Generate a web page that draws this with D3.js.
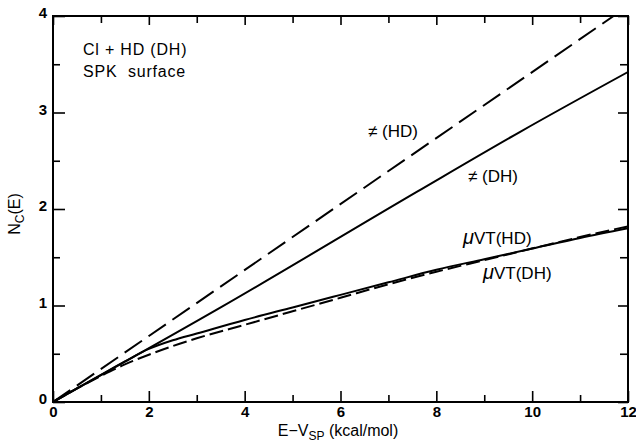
<!DOCTYPE html>
<html><head><meta charset="utf-8">
<script src="https://cdn.jsdelivr.net/npm/d3@7"></script>
<style>
body{margin:0;background:#fff;}
text{font-family:"Liberation Sans",Arial,sans-serif;fill:#000;}
</style></head>
<body><svg id="c" width="636" height="442"></svg>
<script>
// Data
const xTicksMajor = [0,2,4,6,8,10,12];
const xTicksMinor = [1,3,5,7,9,11];
const yTicksMajor = [0,1,2,3,4];
const yTicksMinor = [0.5,1.5,2.5,3.5];

const tstHD_x = [0, 11.7];
const tstHD_y = [0, 4.0];
const tstDH_x = [0, 3.5, 7.6, 9.75, 12];
const tstDH_y = [0, 0.98, 2.18, 2.80, 3.42];
const muvtE = [0, 0.5, 1, 1.5, 2, 2.5, 3, 4, 5, 6, 7, 8, 9, 10, 11, 12];
const muvtDH = [0, 0.14, 0.28, 0.42, 0.55, 0.64, 0.71, 0.85, 0.98, 1.11, 1.24, 1.37, 1.48, 1.59, 1.70, 1.80];
const muvtHD = [0, 0.14, 0.27, 0.39, 0.49, 0.58, 0.66, 0.80, 0.94, 1.08, 1.22, 1.35, 1.47, 1.59, 1.71, 1.82];

const svg = d3.select("#c");
const L=53, R=628, T=16, B=402;
const x = d3.scaleLinear().domain([0,12]).range([L,R]);
const y = d3.scaleLinear().domain([0,4]).range([B,T]);

svg.append("clipPath").attr("id","clip").append("rect")
  .attr("x",L).attr("y",T).attr("width",R-L).attr("height",B-T);

function addAxis(axisGen, tr, vals, size, fmt){
  const g = svg.append("g").attr("transform",tr)
    .call(axisGen.tickValues(vals).tickSizeInner(size).tickSizeOuter(0).tickPadding(5).tickFormat(fmt));
  g.select(".domain").remove();
  g.selectAll(".tick line").attr("stroke","#000").attr("stroke-width",1.6);
  g.selectAll("text").style("font-size","15px").style("font-weight","bold");
  return g;
}
const none = () => "";
const gb = addAxis(d3.axisBottom(x), `translate(0,${B})`, xTicksMajor, -11, d3.format("d"));
gb.selectAll("text").attr("y",4).attr("dy","0.72em");
addAxis(d3.axisBottom(x), `translate(0,${B})`, xTicksMinor, -7, none);
addAxis(d3.axisTop(x), `translate(0,${T})`, xTicksMajor, -9, none);
addAxis(d3.axisTop(x), `translate(0,${T})`, xTicksMinor, -7, none);
const gl = addAxis(d3.axisLeft(y), `translate(${L},0)`, yTicksMajor, -12, d3.format("d"));
gl.selectAll("text").attr("x",-6).attr("dy","0.1em");
addAxis(d3.axisLeft(y), `translate(${L},0)`, yTicksMinor, -7, none);
addAxis(d3.axisRight(y), `translate(${R},0)`, yTicksMajor, -10, none);
addAxis(d3.axisRight(y), `translate(${R},0)`, yTicksMinor, -8, none);

svg.append("rect").attr("x",L).attr("y",T).attr("width",R-L).attr("height",B-T)
  .attr("fill","none").attr("stroke","#000").attr("stroke-width",2);

const line = d3.line().x(d=>x(d[0])).y(d=>y(d[1])).curve(d3.curveMonotoneX);
const plot = svg.append("g").attr("clip-path","url(#clip)");
function draw(xs, ys, dash){
  plot.append("path").datum(xs.map((v,i)=>[v,ys[i]]))
    .attr("d", line).attr("fill","none").attr("stroke","#000")
    .attr("stroke-width",2).attr("stroke-dasharray",dash||null);
}
draw(tstHD_x, tstHD_y, "21,8");
draw(tstDH_x, tstDH_y);
draw(muvtE, muvtDH);
draw(muvtE, muvtHD, "14,5");

function txt(x0,y0,s,size){
  return svg.append("text").attr("x",x0).attr("y",y0).style("font-size",(size||15)+"px").text(s);
}
txt(83,55,"Cl + HD (DH)",16).style("letter-spacing","0.8px");
txt(83,77,"SPK  surface",16).style("letter-spacing","0.8px").attr("xml:space","preserve");
txt(368,137,"≠ (HD)",17).attr("xml:space","preserve");
txt(468,182,"≠ (DH)",17).attr("xml:space","preserve");
const t1 = svg.append("text").attr("x",463).attr("y",244).style("font-size","17px");
t1.append("tspan").style("font-style","italic").style("font-size","20px").text("μ");
t1.append("tspan").text("VT(HD)");
const t2 = svg.append("text").attr("x",483).attr("y",279).style("font-size","17px");
t2.append("tspan").style("font-style","italic").style("font-size","20px").text("μ");
t2.append("tspan").text("VT(DH)");

const xl = svg.append("text").attr("x",338).attr("y",436).attr("text-anchor","middle").style("font-size","16px");
xl.append("tspan").text("E−V");
xl.append("tspan").attr("dy",4).style("font-size","12px").text("SP");
xl.append("tspan").attr("dy",-4).text(" (kcal/mol)");
const yl = svg.append("text").attr("transform","translate(20,214) rotate(-90)").attr("text-anchor","middle").style("font-size","16px");
yl.append("tspan").text("N");
yl.append("tspan").attr("dy",4).style("font-size","12px").text("C");
yl.append("tspan").attr("dy",-4).text("(E)");
</script></body></html>
